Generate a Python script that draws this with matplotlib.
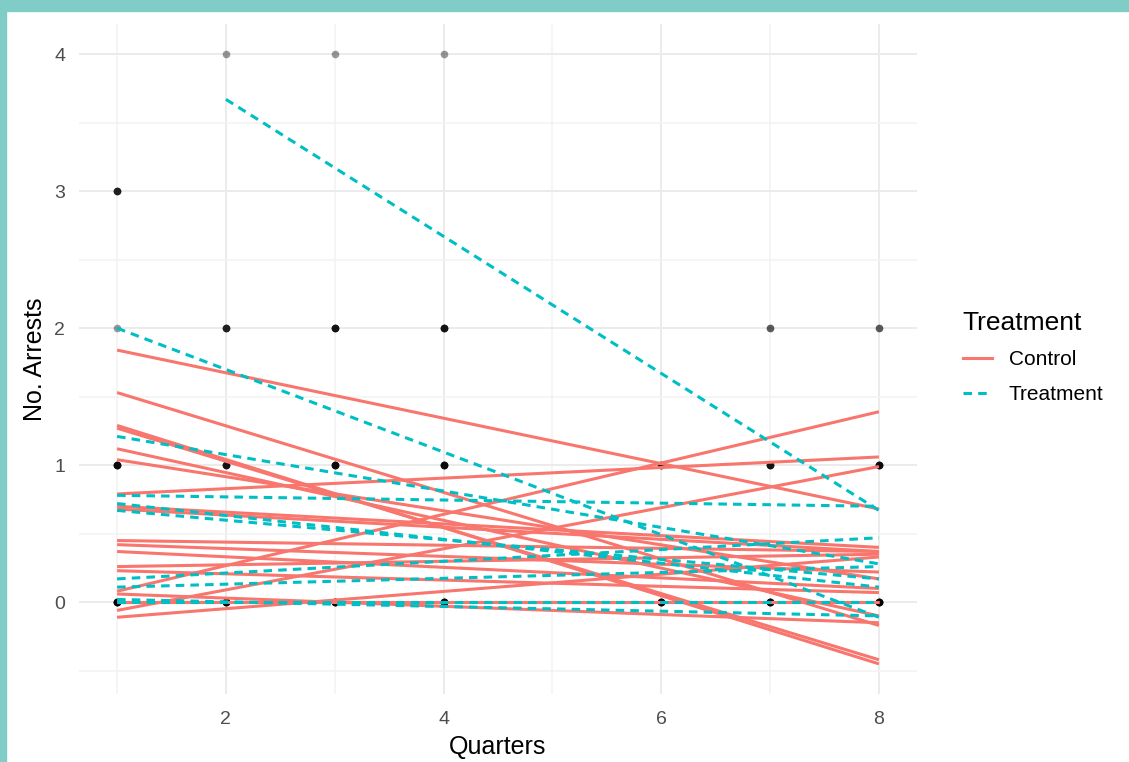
import matplotlib.pyplot as plt
from matplotlib.patches import Rectangle
from matplotlib.lines import Line2D

plt.rcParams["font.family"] = ["Liberation Sans", "DejaVu Sans"]

# observed arrests: quarter, count, number of people with that value
pt_quarter = [1, 1, 1, 1, 2, 2, 2, 2, 3, 3, 3, 3, 4, 4, 4, 4, 6, 6, 7, 7, 7, 8, 8, 8]
pt_arrests = [3, 2, 1, 0, 4, 2, 1, 0, 4, 2, 1, 0, 4, 2, 1, 0, 1, 0, 2, 1, 0, 2, 1, 0]
pt_n = [4, 1, 6, 8, 1, 4, 5, 8, 1, 5, 6, 8, 1, 5, 6, 8, 5, 8, 2, 5, 8, 2, 6, 8]

# fitted per-person lines (value at first and last quarter)
ctrl_q0 = [1] * 20
ctrl_y0 = [1.84, 1.53, 1.29, 1.27, 1.12, 1.04, 0.79, 0.70, 0.68, 0.45,
           0.42, 0.37, 0.26, 0.23, 0.08, -0.06, -0.11, 0.0, 0.0, 0.06]
ctrl_y1 = [0.68, -0.17, -0.45, -0.42, -0.10, 0.17, 1.06, 0.40, 0.37, 0.37,
           0.22, 0.10, 0.35, 0.07, 1.39, 0.99, 0.33, 0.0, 0.0, -0.15]

treat_q0 = [2, 1, 1, 1, 1, 1, 1, 1, 1, 1]
treat_y0 = [3.67, 2.0, 1.21, 0.78, 0.72, 0.67, 0.17, 0.11, 0.0, 0.02]
treat_y1 = [0.67, -0.11, 0.28, 0.70, 0.11, 0.17, 0.47, 0.26, 0.0, -0.10]

last_q = 8
red = "#F8766D"
teal = "#00BFC4"
lw = 2.2
dash = (0, (2.8, 2.0))

fig = plt.figure(figsize=(11.29, 7.62), dpi=100)
# teal frame around the screenshot
fig.patches.append(Rectangle((0, 1 - 11 / 762), 1, 11 / 762, transform=fig.transFigure,
                             color="#80CDC8", zorder=0))
fig.patches.append(Rectangle((0, 0), 6 / 1129, 1, transform=fig.transFigure,
                             color="#80CDC8", zorder=0))

ax = fig.add_axes([79 / 1129, 68 / 762, 838 / 1129, 670 / 762])

for q, y, n in zip(pt_quarter, pt_arrests, pt_n):
    for _ in range(n):
        ax.scatter(q, y, s=30, color="black", alpha=0.4, linewidths=0, zorder=2)

for q0, a, b in zip(ctrl_q0, ctrl_y0, ctrl_y1):
    ax.plot([q0, last_q], [a, b], color=red, lw=lw, zorder=3, solid_capstyle="butt")
for q0, a, b in zip(treat_q0, treat_y0, treat_y1):
    ax.plot([q0, last_q], [a, b], color=teal, lw=lw, linestyle=dash, zorder=4)

ax.set_xlim(0.65, 8.35)
ax.set_ylim(-0.67, 4.22)
ax.set_xticks([2, 4, 6, 8])
ax.set_xticks([1, 3, 5, 7], minor=True)
ax.set_yticks([0, 1, 2, 3, 4])
ax.set_yticks([-0.5, 0.5, 1.5, 2.5, 3.5], minor=True)
ax.grid(which="major", color="#ebebeb", lw=1.4)
ax.grid(which="minor", color="#f2f2f2", lw=1.1)
ax.set_axisbelow(True)
for s in ax.spines.values():
    s.set_visible(False)
ax.tick_params(which="both", length=0, labelsize=14, labelcolor="#4d4d4d")
ax.tick_params(axis="x", pad=12)
ax.tick_params(axis="y", pad=10)

ax.set_xlabel("Quarters", fontsize=18, labelpad=5)
ax.set_ylabel("No. Arrests", fontsize=18, labelpad=5)

handles = [Line2D([], [], color=red, lw=lw),
           Line2D([], [], color=teal, lw=lw, linestyle=dash)]
leg = fig.legend(handles, ["Control", "Treatment"], title="Treatment",
                 loc="upper left", bbox_to_anchor=(944 / 1129, 1 - 292 / 762),
                 frameon=False, fontsize=15, title_fontsize=19,
                 handlelength=1.4, handletextpad=0.8, labelspacing=0.75)
leg._legend_box.align = "left"

fig.savefig("out.png", dpi=100)
